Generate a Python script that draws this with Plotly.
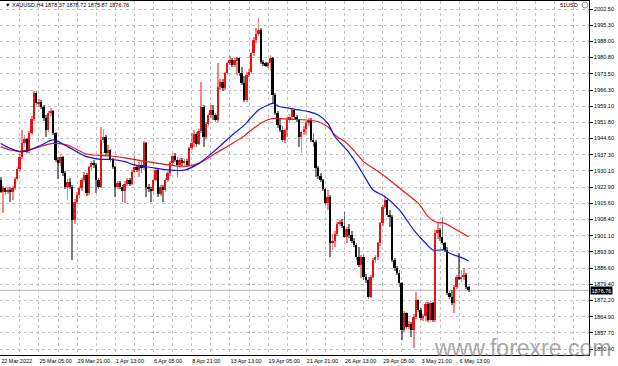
import plotly.graph_objects as go

# ---------------- data ----------------
opens = [1926.1,1920.8,1922.3,1920.5,1921.5,1920.8,1922.5,1926.5,1931.0,1936.5,
         1942.5,1944.5,1939.0,1947.0,1953.5,1964.8,1960.3,1961.0,1958.8,1953.6,
         1948.4,1955.9,1957.0,1946.9,1935.0,1933.5,1936.5,1929.0,1923.1,1925.3,
         1923.1,1908.2,1916.4,1919.4,1922.3,1926.0,1928.3,1920.1,1931.7,1933.5,
         1932.8,1926.1,1923.1,1943.9,1945.4,1938.0,1939.5,1935.0,1932.0,1923.1,
         1924.6,1923.0,1921.0,1924.5,1926.0,1924.5,1929.8,1932.0,1930.5,1932.8,
         1931.5,1942.4,1923.0,1922.0,1921.0,1926.0,1930.5,1920.0,1923.0,1921.5,
         1926.0,1929.0,1933.5,1937.0,1935.0,1932.8,1935.0,1933.5,1934.5,1933.0,
         1940.2,1942.4,1946.5,1942.0,1948.0,1958.8,1945.4,1951.0,1955.0,1957.4,
         1955.0,1952.9,1967.8,1970.0,1967.0,1973.7,1978.2,1979.7,1977.5,1979.7,
         1980.4,1973.7,1969.3,1961.8,1973.0,1974.5,1982.7,1988.6,1991.5,1993.1,
         1978.9,1978.2,1977.0,1978.2,1980.5,1964.0,1955.9,1950.6,1948.4,1944.0,
         1948.4,1953.0,1954.4,1957.4,1954.4,1952.9,1945.4,1947.5,1949.0,1951.4,
         1953.0,1944.0,1943.0,1931.3,1928.0,1926.0,1922.0,1915.6,1918.6,1897.8,
         1899.0,1902.0,1906.5,1907.2,1905.5,1900.7,1904.0,1901.5,1899.0,1897.0,
         1891.8,1888.1,1891.8,1882.8,1881.5,1874.0,1882.8,1890.3,1891.8,1897.8,
         1906.7,1914.1,1917.1,1910.4,1909.7,1890.3,1886.6,1884.3,1879.9,1859.0,
         1866.5,1860.5,1861.5,1859.0,1865.0,1872.4,1867.9,1864.2,1865.5,1870.5,
         1863.5,1870.9,1863.5,1902.2,1903.7,1900.7,1897.8,1895.0,1875.4,1873.9,
         1870.9,1878.4,1882.8,1882.1,1882.8,1883.8,1878.37]
highs = [1927.6,1923.5,1923.0,1922.5,1922.8,1923.5,1927.5,1932.0,1937.5,1948.4,
         1946.0,1945.0,1948.0,1954.5,1966.0,1965.8,1962.5,1962.0,1959.5,1955.0,
         1957.0,1958.1,1957.5,1947.5,1936.5,1937.5,1937.0,1930.0,1926.5,1926.8,
         1924.0,1917.5,1920.5,1923.5,1927.0,1929.5,1929.0,1932.5,1934.5,1935.0,
         1933.5,1927.0,1949.9,1949.0,1946.0,1941.5,1940.0,1936.0,1932.5,1925.5,
         1925.5,1924.0,1925.5,1927.0,1927.0,1930.5,1937.2,1933.0,1934.0,1934.0,
         1943.5,1943.0,1924.5,1923.0,1927.0,1931.5,1931.0,1924.0,1924.0,1927.0,
         1930.0,1934.5,1938.0,1938.0,1936.5,1936.0,1936.0,1935.5,1935.5,1941.0,
         1946.9,1948.4,1947.5,1949.0,1970.0,1959.5,1952.0,1956.0,1959.6,1959.6,
         1956.0,1978.5,1971.0,1971.0,1974.5,1979.0,1981.5,1980.5,1980.5,1981.0,
         1981.0,1976.7,1972.5,1974.5,1975.5,1983.5,1990.0,1993.9,1998.3,1994.0,
         1979.5,1979.0,1979.0,1981.9,1981.0,1965.0,1957.0,1953.5,1950.0,1949.0,
         1954.4,1955.5,1958.1,1958.0,1955.0,1953.5,1948.4,1950.0,1952.5,1954.0,
         1953.6,1946.9,1944.0,1932.5,1929.0,1926.5,1922.5,1921.6,1919.5,1902.0,
         1903.5,1907.5,1908.0,1908.5,1911.9,1905.0,1906.5,1903.5,1900.0,1898.0,
         1896.3,1892.5,1892.5,1884.0,1882.5,1883.5,1891.0,1892.5,1898.5,1907.5,
         1915.0,1918.6,1918.0,1912.6,1910.5,1891.0,1887.5,1886.0,1880.5,1867.5,
         1867.0,1863.0,1862.5,1866.0,1876.1,1873.0,1869.0,1866.0,1871.5,1871.5,
         1872.0,1871.5,1903.7,1906.7,1904.5,1909.7,1898.5,1896.0,1876.5,1876.9,
         1879.0,1883.5,1893.3,1885.8,1886.6,1884.5,1878.72]
lows = [1920.1,1911.2,1919.5,1919.8,1916.4,1917.0,1921.5,1925.5,1930.0,1935.5,
        1941.0,1938.0,1938.0,1946.0,1952.5,1959.5,1958.5,1958.0,1952.5,1945.4,
        1947.5,1954.5,1946.0,1934.0,1926.5,1932.5,1928.0,1922.0,1917.1,1922.0,
        1890.3,1906.5,1915.5,1918.0,1921.0,1925.0,1919.0,1919.5,1930.5,1931.5,
        1920.1,1922.0,1922.5,1942.5,1937.0,1937.0,1934.0,1931.0,1918.6,1922.0,
        1922.0,1916.4,1915.6,1923.5,1923.5,1924.0,1929.0,1929.5,1927.5,1929.0,
        1930.5,1918.6,1920.5,1916.4,1920.0,1925.5,1918.6,1919.0,1916.4,1920.5,
        1925.0,1928.0,1932.5,1934.0,1927.5,1932.0,1932.5,1932.5,1932.0,1932.5,
        1939.5,1941.0,1940.9,1941.5,1947.0,1940.9,1944.5,1950.0,1954.0,1952.9,
        1952.0,1952.0,1966.5,1966.0,1966.3,1973.0,1977.5,1976.5,1976.7,1973.0,
        1972.5,1968.5,1961.0,1961.0,1972.0,1973.5,1981.5,1987.5,1990.5,1978.0,
        1977.0,1976.5,1976.0,1975.0,1960.3,1955.0,1949.5,1947.5,1943.0,1942.4,
        1945.4,1952.0,1953.0,1953.5,1952.0,1940.9,1938.0,1946.0,1946.5,1950.0,
        1943.0,1940.9,1927.5,1926.5,1925.0,1921.0,1915.0,1912.6,1891.8,1894.8,
        1896.3,1901.0,1905.5,1904.5,1900.0,1897.8,1900.0,1898.0,1896.0,1890.5,
        1887.0,1882.1,1881.5,1880.0,1872.7,1873.5,1882.1,1889.0,1890.5,1896.5,
        1905.5,1913.0,1909.5,1905.2,1889.5,1885.5,1883.5,1878.4,1854.5,1858.0,
        1859.5,1859.5,1856.0,1850.8,1864.0,1867.0,1863.5,1863.0,1863.0,1862.5,
        1862.5,1862.5,1862.5,1899.5,1899.0,1897.0,1894.0,1874.5,1873.0,1870.0,
        1866.5,1877.5,1881.5,1880.5,1881.5,1877.5,1875.87]
closes = [1920.8,1922.3,1920.5,1921.5,1920.8,1922.5,1926.5,1931.0,1936.5,1942.5,
          1944.5,1939.0,1947.0,1953.5,1964.8,1960.3,1961.0,1958.8,1953.6,1948.4,
          1955.9,1957.0,1946.9,1935.0,1933.5,1936.5,1929.0,1923.1,1925.3,1923.1,
          1908.2,1916.4,1919.4,1922.3,1926.0,1928.3,1920.1,1931.7,1933.5,1932.8,
          1926.1,1923.1,1943.9,1945.4,1938.0,1939.5,1935.0,1932.0,1923.1,1924.6,
          1923.0,1921.0,1924.5,1926.0,1924.5,1929.8,1932.0,1930.5,1932.8,1931.5,
          1942.4,1923.0,1922.0,1921.0,1926.0,1930.5,1920.0,1923.0,1921.5,1926.0,
          1929.0,1933.5,1937.0,1935.0,1932.8,1935.0,1933.5,1934.5,1933.0,1940.2,
          1942.4,1946.5,1942.0,1948.0,1958.8,1945.4,1951.0,1955.0,1957.4,1955.0,
          1952.9,1967.8,1970.0,1967.0,1973.7,1978.2,1979.7,1977.5,1979.7,1980.4,
          1973.7,1969.3,1961.8,1973.0,1974.5,1982.7,1988.6,1991.5,1993.1,1978.9,
          1978.2,1977.0,1978.2,1980.5,1964.0,1955.9,1950.6,1948.4,1944.0,1948.4,
          1953.0,1954.4,1957.4,1954.4,1952.9,1945.4,1947.5,1949.0,1951.4,1953.0,
          1944.0,1943.0,1931.3,1928.0,1926.0,1922.0,1915.6,1918.6,1897.8,1899.0,
          1902.0,1906.5,1907.2,1905.5,1900.7,1904.0,1901.5,1899.0,1897.0,1891.8,
          1888.1,1891.8,1882.8,1881.5,1874.0,1882.8,1890.3,1891.8,1897.8,1906.7,
          1914.1,1917.1,1910.4,1909.7,1890.3,1886.6,1884.3,1879.9,1859.0,1866.5,
          1860.5,1861.5,1859.0,1865.0,1872.4,1867.9,1864.2,1865.5,1870.5,1863.5,
          1870.9,1863.5,1902.2,1903.7,1900.7,1897.8,1895.0,1875.4,1873.9,1870.9,
          1878.4,1882.8,1882.1,1882.8,1883.8,1878.4,1876.76]

# moving-average lines, read at sample bars
ma_blue_bar = [0,4,8,11,17,22,28,36,42,46,52,56,64,71,77,83,90,97,102,104,108,112,114,
               117,121,125,129,133,137,140,145,149,152,156,161,167,173,178,181,186,188,192,196]
ma_blue_val = [1942.4,1940.2,1938.7,1939.0,1941.7,1944.0,1941.0,1936.5,1935.3,1935.3,1934.3,
               1932.8,1931.5,1930.5,1930.5,1933.5,1939.5,1946.2,1950.6,1952.9,1957.4,1959.6,
               1960.3,1958.8,1958.1,1957.4,1956.6,1955.1,1951.4,1945.4,1939.5,1933.5,1928.3,
               1921.6,1918.6,1912.7,1903.7,1897.8,1894.8,1894.8,1893.3,1891.8,1889.9]
ma_red_bar = [0,4,8,14,22,28,36,46,52,61,71,76,83,90,97,102,104,110,114,121,128,133,137,
              140,145,149,152,158,163,168,175,179,182,186,191,196]
ma_red_val = [1941.0,1939.5,1939.0,1940.2,1942.4,1941.7,1937.7,1936.8,1936.0,1934.3,1932.8,
              1932.0,1933.5,1938.0,1942.4,1945.8,1947.6,1952.1,1953.6,1953.2,1952.9,1952.1,
              1949.9,1946.2,1942.4,1938.0,1934.3,1930.0,1926.0,1921.6,1915.6,1909.7,1907.4,
              1906.7,1903.7,1900.7]

x_tick_labels = ["22 Mar 2022", "25 Mar 05:00", "29 Mar 21:00", "1 Apr 13:00", "6 Apr 05:00",
                 "8 Apr 21:00", "13 Apr 13:00", "19 Apr 05:00", "21 Apr 21:00", "26 Apr 13:00",
                 "29 Apr 05:00", "3 May 21:00", "6 May 13:00"]
y_tick_values = [2002.50, 1995.30, 1988.00, 1980.80, 1973.50, 1966.30, 1959.10, 1951.80,
                 1944.60, 1937.30, 1930.10, 1922.90, 1915.60, 1908.40, 1901.10, 1893.90,
                 1886.60, 1879.40, 1872.20, 1864.90, 1857.70, 1850.40]
last_price = 1876.76
header_text = "▼ XAUUSD,H4 1878.37 1878.72 1875.87 1876.76"

# ---------------- figure ----------------
W, H = 618, 366
ML, MR, MT, MB = 0, 29, 1, 11
PW, PH = W - ML - MR, H - MT - MB
FONT = "Liberation Sans, Arial, sans-serif"

bars = list(range(len(opens)))
up = [c >= o for o, c in zip(opens, closes)]
BULL, BEAR = "#ee1111", "#000000"

fig = go.Figure()
for is_up, col in ((True, BULL), (False, BEAR)):
    idx = [i for i in bars if up[i] == is_up]
    fig.add_trace(go.Bar(
        x=idx, base=[lows[i] for i in idx], y=[highs[i] - lows[i] for i in idx],
        width=0.32, marker=dict(color=col, line=dict(width=0)), opacity=0.5,
        hoverinfo="skip", showlegend=False))
for is_up, col in ((True, BULL), (False, BEAR)):
    idx = [i for i in bars if up[i] == is_up]
    fig.add_trace(go.Bar(
        x=idx, base=[min(opens[i], closes[i]) for i in idx],
        y=[max(abs(closes[i] - opens[i]), 0.25) for i in idx],
        width=0.78, marker=dict(color=col, line=dict(width=0)),
        hoverinfo="skip", showlegend=False))

fig.add_trace(go.Scatter(x=ma_red_bar, y=ma_red_val, mode="lines",
                         line=dict(color="#f01414", width=1.2, shape="spline", smoothing=0.8),
                         hoverinfo="skip", showlegend=False))
fig.add_trace(go.Scatter(x=ma_blue_bar, y=ma_blue_val, mode="lines",
                         line=dict(color="#1414e6", width=1.2, shape="spline", smoothing=0.8),
                         hoverinfo="skip", showlegend=False))

x_tickvals = list(range(0, 247, 8))
x_ticktext = [x_tick_labels[v // 16] if (v % 16 == 0 and v // 16 < len(x_tick_labels)) else ""
              for v in x_tickvals]

grid = dict(showgrid=True, gridcolor="#c4c4c4", griddash="dot", gridwidth=1)


def px_x(p):
    return (p - ML) / PW


def px_y(p):
    return (H - MB - p) / PH


fig.update_layout(
    width=W, height=H, margin=dict(l=ML, r=MR, t=MT, b=MB),
    paper_bgcolor="white", plot_bgcolor="white", barmode="overlay", bargap=0,
    font=dict(family=FONT, size=5.5, color="black"),
    xaxis=dict(range=[-0.3, 246.4], tickmode="array", tickvals=x_tickvals, ticktext=x_ticktext,
               ticklabelposition="outside right", ticks="", tickangle=0, zeroline=False,
               showline=True, linecolor="#000", linewidth=1, mirror=True,
               tickfont=dict(size=5.5, family=FONT), automargin=False, fixedrange=True, **grid),
    yaxis=dict(side="right", range=[1847.85, 2006.08], tickmode="array",
               tickvals=y_tick_values, ticktext=[f"{v:.2f}" for v in y_tick_values],
               ticks="outside", ticklen=3, tickcolor="#000", zeroline=False,
               showline=True, linecolor="#000", linewidth=1, mirror=True,
               tickfont=dict(size=5.5, family=FONT), automargin=False, fixedrange=True, **grid),
    shapes=[
        dict(type="line", xref="paper", yref="y", x0=0, x1=1, y0=last_price, y1=last_price,
             line=dict(color="#b4b4b4", width=1), layer="below"),
        dict(type="circle", xref="paper", yref="paper", x0=px_x(582), x1=px_x(588),
             y0=px_y(8), y1=px_y(2), line=dict(color="#777", width=0.8)),
    ],
    annotations=[
        dict(xref="paper", yref="paper", x=px_x(3), y=px_y(5), xanchor="left", yanchor="middle",
             text=header_text, showarrow=False, font=dict(size=5.5, family=FONT, color="#000")),
        dict(xref="paper", yref="paper", x=px_x(580), y=px_y(5), xanchor="right", yanchor="middle",
             text="51USD", showarrow=False, font=dict(size=5.5, family=FONT, color="#000")),
        dict(xref="paper", yref="y", x=1, xshift=1, y=last_price, xanchor="left", yanchor="middle",
             text="1876.76", showarrow=False, bgcolor="#000", borderpad=0.5,
             font=dict(size=5.5, family=FONT, color="#fff")),
        dict(xref="paper", yref="paper", x=px_x(432), y=px_y(347.5), xanchor="left", yanchor="middle",
             text="www.forexre.com", showarrow=False,
             font=dict(size=23, family=FONT, color="rgba(130,130,130,0.7)")),
    ],
)

fig.write_html("out.html", config={"displayModeBar": False},
               post_script="document.body.style.margin='0';document.body.style.overflow='hidden';")
